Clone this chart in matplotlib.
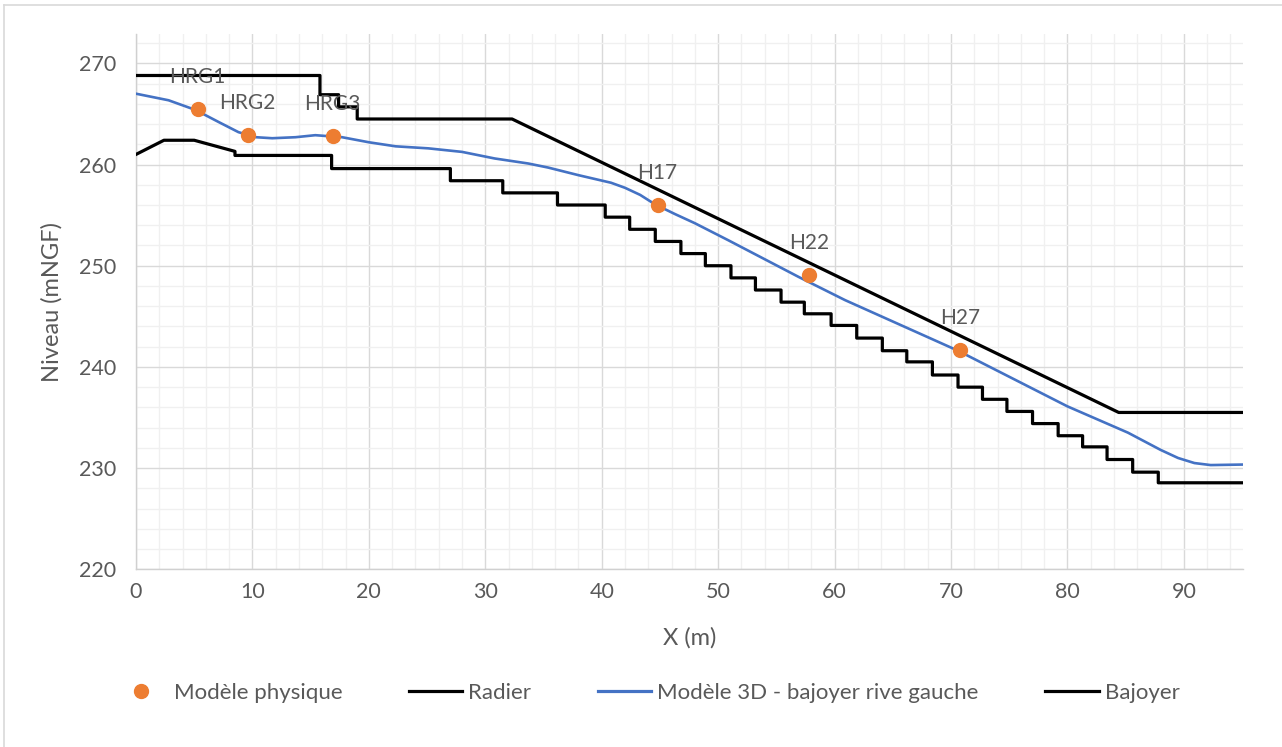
## profil en long : modele physique vs modele 3D
import matplotlib.pyplot as plt
from matplotlib.lines import Line2D

## donnees lues sur le graphique
# points du modele physique
phys_x = [5.3, 9.6, 16.9, 44.8, 57.8, 70.8]
phys_y = [265.5, 262.9, 262.8, 256.0, 249.1, 241.7]
phys_lab = ['HRG1', 'HRG2', 'HRG3', 'H17', 'H22', 'H27']

# radier (fond en escalier)
radier_x = [0, 2.4, 5.0, 8.5, 8.5, 16.8, 16.8, 27.0, 27.0, 31.5, 31.5, 36.2, 36.2,
            40.3, 40.3, 42.4, 42.4, 44.6, 44.6, 46.8, 46.8, 48.9, 48.9, 51.1, 51.1,
            53.2, 53.2, 55.4, 55.4, 57.4, 57.4, 59.7, 59.7, 61.9, 61.9, 64.1, 64.1,
            66.2, 66.2, 68.4, 68.4, 70.6, 70.6, 72.7, 72.7, 74.8, 74.8, 77.0, 77.0,
            79.2, 79.2, 81.3, 81.3, 83.4, 83.4, 85.6, 85.6, 87.8, 87.8, 95.0]
radier_y = [261.0, 262.4, 262.4, 261.3, 260.9, 260.9, 259.6, 259.6, 258.4, 258.4, 257.2, 257.2, 256.0,
            256.0, 254.8, 254.8, 253.6, 253.6, 252.4, 252.4, 251.2, 251.2, 250.0, 250.0, 248.8,
            248.8, 247.6, 247.6, 246.4, 246.4, 245.25, 245.25, 244.1, 244.1, 242.85, 242.85, 241.6,
            241.6, 240.5, 240.5, 239.2, 239.2, 238.0, 238.0, 236.8, 236.8, 235.6, 235.6, 234.4,
            234.4, 233.2, 233.2, 232.1, 232.1, 230.85, 230.85, 229.6, 229.6, 228.55, 228.55]

# modele 3D - bajoyer rive gauche
m3d_x = [0, 2.8, 5.1, 7.1, 8.8, 10.3, 11.7, 13.7, 15.4, 17.7, 20.0, 22.3, 25.1, 28.0,
         30.8, 33.7, 35.4, 38.0, 40.8, 42.0, 43.3, 44.6, 46.3, 48.0, 50.9, 56.9, 60.9, 70.6, 80.0,
         85.2, 88.0, 89.5, 90.9, 92.3, 95.0]
m3d_y = [267.0, 266.35, 265.4, 264.2, 263.2, 262.7, 262.6, 262.7, 262.9, 262.7, 262.2, 261.8, 261.6, 261.25,
         260.6, 260.1, 259.7, 258.95, 258.2, 257.7, 257.0, 256.05, 255.1, 254.2, 252.5, 248.9, 246.6, 241.6, 236.1,
         233.5, 231.8, 231.0, 230.5, 230.3, 230.35]

# bajoyer
bajoyer_x = [0, 15.8, 15.8, 17.4, 17.4, 19.0, 19.0, 32.3, 84.4, 95.0]
bajoyer_y = [268.8, 268.8, 266.9, 266.9, 265.7, 265.7, 264.5, 264.5, 235.5, 235.5]

x_ticks = [0, 10, 20, 30, 40, 50, 60, 70, 80, 90]
y_ticks = [220, 230, 240, 250, 260, 270]

grey = '#595959'
orange = '#ED7D31'
blue = '#4472C4'

plt.rcParams['font.family'] = ['Lato', 'DejaVu Sans']

fig = plt.figure(figsize=(12.82, 7.47), dpi=100)
ax = fig.add_axes([136/1282, 1-569.3/747, (1242.7-136)/1282, (569.3-34)/747])

## grille
ax.set_xlim(0, 95.05)
ax.set_ylim(220, 272.9)
ax.set_xticks(x_ticks)
ax.set_yticks(y_ticks)
ax.set_xticks(range(0, 96, 2), minor=True)
ax.set_yticks(range(220, 273, 2), minor=True)
ax.grid(True, which='major', color='#D9D9D9', linewidth=1.0, zorder=0)
ax.grid(True, which='minor', color='#F0F0F0', linewidth=1.0, zorder=0)
ax.set_axisbelow(True)
ax.tick_params(which='both', length=0, labelsize=15.5, labelcolor=grey)
ax.tick_params(axis='x', pad=9)
ax.tick_params(axis='y', pad=14)
for s in ['top', 'right']:
    ax.spines[s].set_visible(False)
for s in ['left', 'bottom']:
    ax.spines[s].set_color('#D0D0D0')
    ax.spines[s].set_linewidth(1.0)

## courbes
ax.plot(radier_x, radier_y, color='black', linewidth=2.3, zorder=3)
ax.plot(m3d_x, m3d_y, color=blue, linewidth=1.9, zorder=3)
ax.plot(bajoyer_x, bajoyer_y, color='black', linewidth=2.3, zorder=3)
ax.plot(phys_x, phys_y, 'o', color=orange, markersize=10, zorder=4)
for x, y, t in zip(phys_x, phys_y, phys_lab):
    ax.annotate(t, (x, y), xytext=(0, 32), textcoords='offset pixels',
                ha='center', va='center', fontsize=15, color=grey, zorder=5)

ax.set_xlabel('X (m)', fontsize=17, color=grey, labelpad=18)
ax.set_ylabel('Niveau (mNGF)', fontsize=17, color=grey, labelpad=12)

## legende
handles = [Line2D([], [], marker='o', linestyle='none', color=orange, markersize=10),
           Line2D([], [], color='black', linewidth=2.3),
           Line2D([], [], color=blue, linewidth=2.3),
           Line2D([], [], color='black', linewidth=2.3)]
labels = ['Modèle physique', 'Radier', 'Modèle 3D - bajoyer rive gauche', 'Bajoyer']
leg = fig.legend(handles, labels, loc='center', bbox_to_anchor=(647/1282, 1-693/747),
                 ncol=4, frameon=False, fontsize=16, handlelength=2.4,
                 handletextpad=0.27, columnspacing=3.0, borderpad=0)
for t in leg.get_texts():
    t.set_color(grey)

## cadre du graphique
fig.add_artist(Line2D([4/1282, 1], [1-4.7/747, 1-4.7/747], color='#D9D9D9', linewidth=1.2))
fig.add_artist(Line2D([4/1282, 4/1282], [0, 1-4.7/747], color='#D9D9D9', linewidth=1.2))

plt.savefig('out.png', dpi=100)
